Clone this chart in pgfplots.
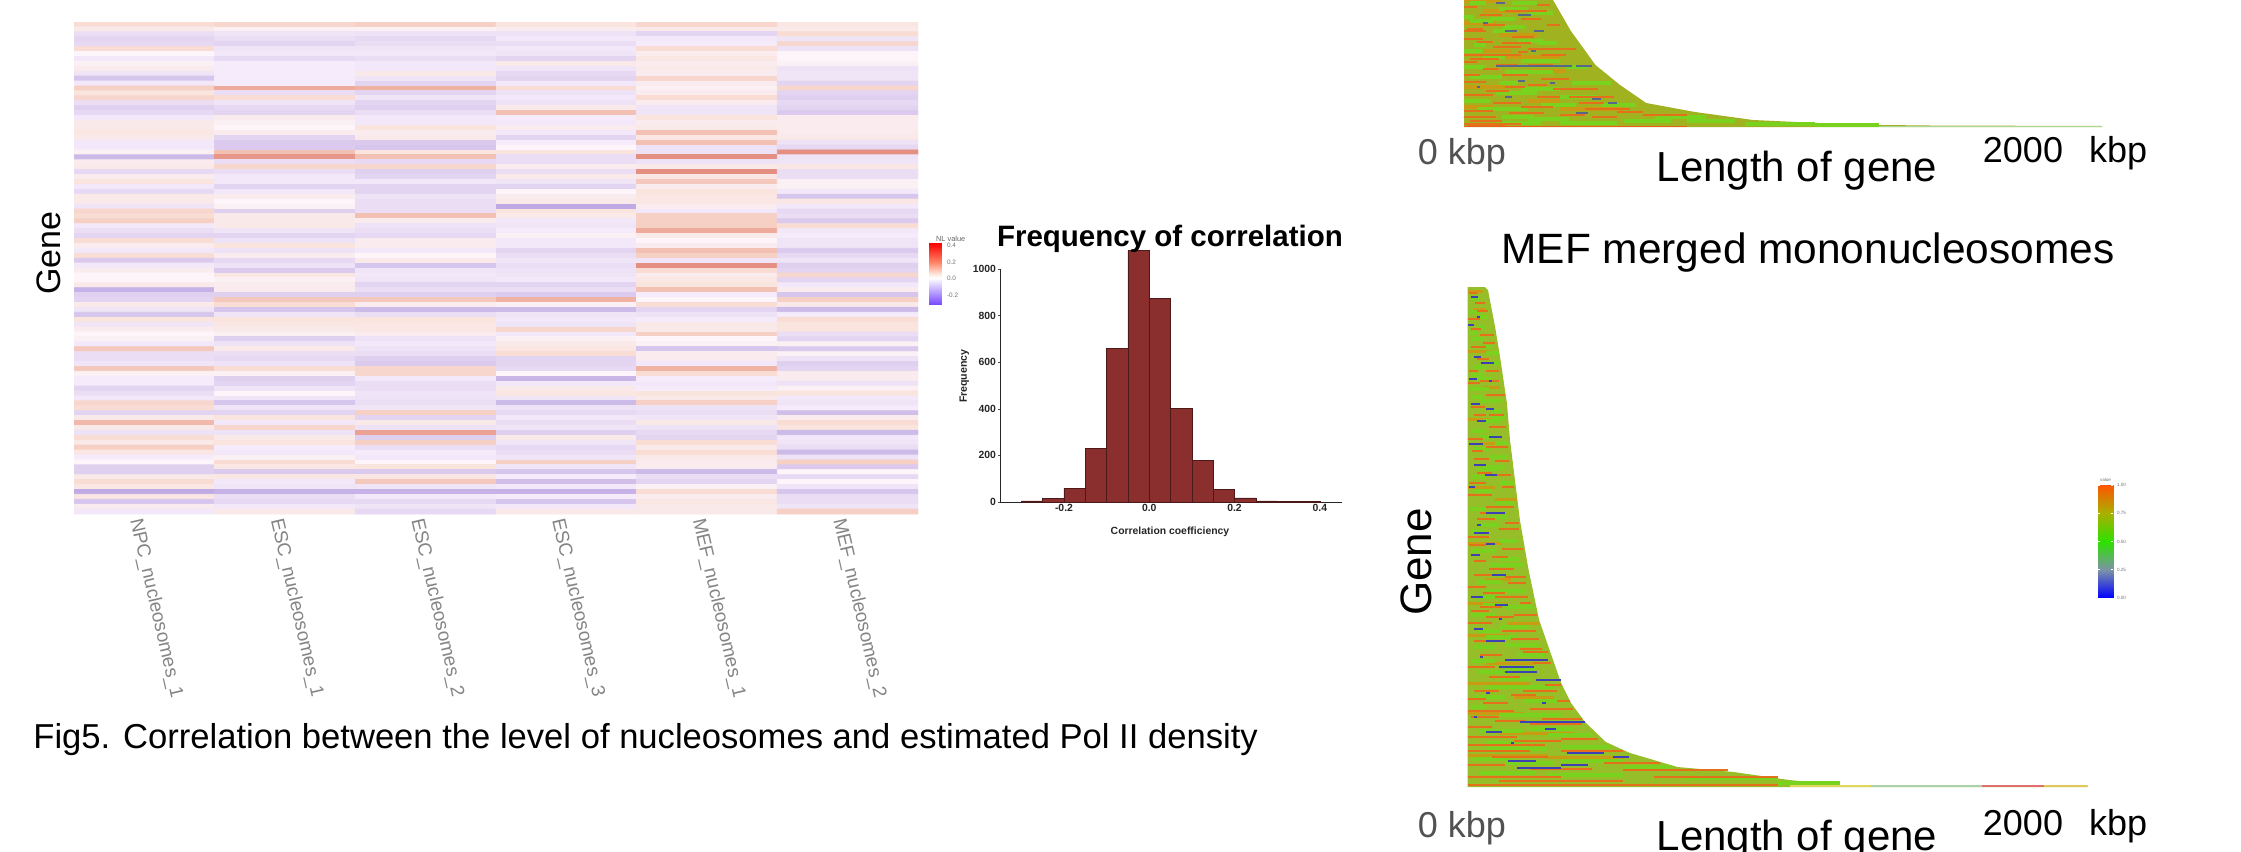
\documentclass[border=0pt]{standalone}
\usepackage{fontspec}
\setmainfont{Liberation Sans}
\usepackage{pgfplots}
\usepackage{pgfplotstable}
\pgfplotsset{compat=1.18}
% 1 reference pixel = 0.5pt
\newcommand{\fs}[1]{\fontsize{#1}{#1}\selectfont}
\definecolor{oS}{HTML}{E4701A}
\definecolor{gS}{HTML}{78D21E}
\definecolor{lS}{HTML}{C99A12}
\definecolor{bS}{HTML}{3C42B4}
\definecolor{bU}{HTML}{55688C}
\definecolor{barR}{HTML}{8B2E2E}
\pgfplotsset{
 streak/.style n args={2}{draw=none,mark=none,forget plot,
   error bars/.cd,x dir=plus,x explicit,error mark=none,
   error bar style={color=#1,line width=#2}},
 panel/.style={anchor=south west,scale only axis,hide axis,clip=true,xmin=0,xmax=2000,ymin=0},
 colormap={nl}{rgb255(0pt)=(122,76,255); rgb255(15pt)=(192,170,228); rgb255(19pt)=(204,186,232); rgb255(23pt)=(224,208,240); rgb255(27pt)=(238,226,246);
   rgb255(30pt)=(245,235,250); rgb255(31pt)=(253,245,250); rgb255(33pt)=(250,235,238); rgb255(36pt)=(250,228,222);
   rgb255(39pt)=(246,208,196); rgb255(44pt)=(238,170,155); rgb255(51pt)=(217,106,96); rgb255(74pt)=(240,0,0)},
 colormap={nlleg}{rgb255(0pt)=(122,76,255); rgb255(31pt)=(255,255,255); rgb255(36pt)=(255,232,222); rgb255(51pt)=(255,130,100); rgb255(74pt)=(250,0,0)},
 colormap={val}{rgb255(0pt)=(0,0,255); rgb255(25pt)=(124,146,168); rgb255(50pt)=(45,225,0); rgb255(75pt)=(170,176,0); rgb255(100pt)=(255,85,0)},
}
% ---- gene panels: streaks, a b = start and end (kbp), r = gene rank
\pgfplotstableread[row sep=\\]{a b r\\
0 120 126\\ 60 180 116\\ 0 100 104\\ 110 230 92\\ 30 150 76\\ 210 320 56\\ 0 130 40\\ 200 300 26\\ 300 500 18\\ 0 90 20\\ 130 300 70\\
}\upOl
\pgfplotstableread[row sep=\\]{a b r\\
0 40 120\\ 230 270 122\\ 50 120 112\\ 180 240 108\\ 260 300 102\\ 0 60 88\\ 40 90 85\\ 150 220 90\\ 0 180 72\\ 170 200 75\\ 200 350 78\\
0 40 65\\ 60 110 58\\ 120 200 52\\ 240 330 48\\ 0 70 45\\ 130 190 40\\ 280 420 38\\ 0 90 32\\ 90 180 24\\ 230 300 30\\ 360 440 24\\
0 100 10\\ 20 120 6\\ 140 250 14\\ 300 380 12\\ 400 480 10\\ 480 560 15\\ 560 700 12\\ 0 180 3\\ 0 90 16\\ 10 60 98\\ 90 180 80\\ 20 110 68\\ 200 280 62\\
130 260 116\\ 60 130 102\\ 120 210 84\\ 240 320 72\\ 100 170 62\\ 0 50 52\\ 200 260 42\\ 70 140 36\\ 330 470 30\\ 180 280 20\\ 380 520 18\\ 10 130 2\\ 0 70 96\\
}\upOr
\pgfplotstableread[row sep=\\]{a b r\\
20 70 124\\ 110 200 118\\ 120 190 100\\ 90 150 96\\ 30 70 82\\ 180 300 66\\ 60 130 70\\ 130 280 55\\ 320 390 60\\ 20 120 50\\ 100 230 34\\ 240 350 22\\
300 420 30\\ 40 200 18\\ 200 330 8\\ 430 540 22\\ 100 240 4\\ 500 650 6\\ 700 850 6\\ 600 760 10\\ 200 280 114\\ 20 90 106\\ 230 290 84\\ 880 1100 3\\ 1100 1300 2\\
0 30 110\\ 150 230 124\\ 80 160 108\\ 170 250 86\\ 0 60 76\\ 110 170 44\\ 340 460 44\\ 180 300 38\\ 0 80 26\\ 120 220 10\\ 300 480 4\\ 0 70 60\\
}\upGr
\pgfplotstableread[row sep=\\]{a b r\\
100 130 124\\ 170 210 112\\ 220 250 96\\ 130 165 96\\ 100 340 61\\ 350 400 61\\ 170 190 46\\ 130 150 30\\ 400 430 28\\ 350 390 14\\ 450 480 24\\ 60 75 104\\ 210 225 76\\ 40 50 40\\ 270 285 44\\
}\upBl
\pgfplotstableread[row sep=\\]{a b r\\
0 50 496\\ 20 60 478\\ 0 70 436\\ 50 105 400\\ 0 90 368\\ 40 100 344\\ 0 90 300\\ 90 160 288\\ 0 110 244\\ 60 140 208\\ 0 130 184\\ 130 230 164\\ 0 130 152\\ 60 220 124\\ 0 200 104\\ 150 280 90\\ 0 180 74\\ 100 340 54\\ 0 260 32\\ 260 500 30\\
}\loOl
\pgfplotstableread[row sep=\\]{a b r\\
5 30 494\\ 25 55 484\\ 0 40 468\\ 40 85 452\\ 10 60 440\\ 30 70 428\\ 60 100 416\\ 0 40 404\\ 60 120 392\\ 10 55 380\\ 20 60 372\\ 70 125 360\\ 0 50 348\\ 60 130 340\\ 20 70 328\\ 90 140 312\\ 5 60 304\\ 0 80 292\\ 60 150 280\\ 30 90 268\\ 100 165 258\\ 0 70 250\\ 110 180 238\\ 20 60 226\\ 70 150 218\\ 120 190 210\\ 0 60 200\\ 90 195 190\\ 40 110 180\\ 150 225 172\\ 0 80 164\\ 110 220 156\\ 20 70 146\\ 170 240 138\\
0 90 120\\ 180 260 135\\ 0 60 88\\ 180 290 96\\ 50 130 84\\ 0 150 76\\ 200 340 78\\ 90 190 66\\ 0 80 60\\ 200 370 63\\ 0 160 50\\ 150 300 46\\ 0 250 42\\ 300 420 48\\ 0 200 36\\ 80 260 30\\ 300 500 36\\ 0 120 22\\ 200 400 18\\ 440 620 24\\ 0 300 10\\ 500 840 17\\ 100 500 6\\ 600 1000 10\\ 0 1000 2\\
30 65 476\\ 10 45 458\\ 50 90 444\\ 5 35 416\\ 40 100 406\\ 70 118 372\\ 15 50 336\\ 90 135 326\\ 30 80 314\\ 110 150 300\\ 40 100 274\\ 120 165 264\\ 5 60 242\\ 80 130 230\\ 20 80 212\\ 130 190 204\\ 50 120 194\\ 170 205 184\\ 10 70 176\\ 60 150 170\\ 140 230 148\\ 40 110 132\\ 210 270 124\\ 70 170 110\\ 250 300 102\\ 20 100 96\\ 140 220 92\\ 290 330 86\\ 10 100 70\\ 240 370 68\\
}\loOr
\pgfplotstableread[row sep=\\]{a b r\\
5 45 475\\ 30 60 460\\ 10 50 448\\ 60 100 434\\ 20 60 420\\ 5 70 398\\ 40 110 386\\ 50 110 366\\ 10 60 356\\ 70 130 330\\ 30 100 318\\ 20 80 296\\ 90 150 284\\ 30 100 262\\ 100 160 246\\ 10 90 236\\ 70 180 222\\ 30 110 205\\ 120 190 196\\ 10 90 172\\ 100 200 160\\ 60 160 150\\ 20 90 140\\ 30 120 115\\ 120 220 118\\ 60 130 100\\ 130 280 100\\ 20 120 90\\ 100 300 72\\ 40 180 56\\ 200 340 58\\ 60 260 38\\ 300 460 40\\ 40 220 14\\ 260 500 12\\ 500 660 20\\ 700 1000 9\\ 1000 1200 4\\ 10 50 412\\ 80 110 376\\ 10 60 310\\ 60 130 196\\
10 40 488\\ 35 62 470\\ 5 30 454\\ 40 80 440\\ 70 100 424\\ 30 80 408\\ 10 50 390\\ 75 120 370\\ 40 90 350\\ 90 130 344\\ 20 70 338\\ 50 120 320\\ 100 150 304\\ 5 60 278\\ 70 130 270\\ 10 60 256\\ 100 170 228\\ 30 100 190\\ 50 120 182\\ 120 210 180\\ 30 100 156\\ 120 230 142\\ 160 250 132\\ 10 90 126\\ 100 200 108\\ 10 60 80\\ 180 290 86\\ 60 180 44\\ 260 400 52\\ 120 280 24\\ 20 140 28\\ 300 500 26\\
}\loGr
\pgfplotstableread[row sep=\\]{a b r\\
10 35 490\\ 0 20 462\\ 20 45 430\\ 45 85 424\\ 5 30 408\\ 10 40 383\\ 60 85 378\\ 30 60 366\\ 70 110 350\\ 5 50 343\\ 20 60 322\\ 55 95 312\\ 5 25 300\\ 60 120 274\\ 20 70 254\\ 60 90 243\\ 10 40 232\\ 80 125 212\\ 10 50 190\\ 90 130 182\\ 20 50 158\\ 60 120 146\\ 100 215 120\\ 120 225 115\\ 120 260 127\\ 220 300 107\\ 170 380 65\\ 60 110 55\\ 250 285 58\\ 320 440 34\\ 300 390 22\\ 160 300 19\\ 130 220 26\\ 470 520 30\\ 30 40 470\\ 70 80 406\\ 30 42 262\\ 100 110 168\\ 40 50 130\\ 60 72 94\\ 240 252 84\\ 140 150 44\\ 20 30 70\\
}\loBl
\begin{document}
\begin{tikzpicture}
\clip (0,0) rectangle (1120.5pt,-425.5pt);
% ---------- heat map ----------
\begin{axis}[at={(37pt,-11pt)},anchor=north west,scale only axis,width=422pt,height=246pt,
  xmin=-0.5,xmax=5.5,ymin=-0.5,ymax=99.5,y dir=reverse,
  colormap name=nl,point meta min=-0.31,point meta max=0.43,
  axis line style={draw=none},major tick length=0pt,ytick=\empty,xtick={0,...,5},
  xticklabels={NPC\_nucleosomes\_1,ESC\_nucleosomes\_1,ESC\_nucleosomes\_2,ESC\_nucleosomes\_3,MEF\_nucleosomes\_1,MEF\_nucleosomes\_2},
  xticklabel style={rotate=-77,anchor=west,xshift=-2.2pt,yshift=-5.1pt,font=\fs{9.5},text=black!48},
  ylabel={Gene},ylabel style={font=\fs{17},at={(axis description cs:-0.007,0.53)},anchor=south}]
\addplot[matrix plot*,mesh/cols=6,point meta=explicit]
 table[row sep=\\,header=false,x expr={\coordindex-6*floor((\coordindex+0.5)/6)},y expr={floor((\coordindex+0.5)/6)},meta index=0]{
0.06\\0.07\\0.08\\0.05\\0.07\\0.04\\
0.03\\0.01\\0.01\\0.02\\0.03\\0.03\\
-0.05\\-0.03\\-0.04\\-0.04\\-0.07\\0.06\\
-0.07\\-0.05\\-0.06\\-0.02\\-0.02\\-0.03\\
-0.06\\-0.07\\-0.05\\-0.05\\-0.01\\0.07\\
0.06\\-0.03\\-0.03\\-0.02\\0.06\\-0.04\\
0.00\\-0.02\\-0.02\\-0.03\\0.02\\0.00\\
-0.02\\-0.06\\-0.05\\-0.07\\0.04\\0.00\\
0.01\\-0.01\\-0.02\\0.03\\0.02\\0.01\\
0.02\\-0.01\\-0.02\\-0.03\\0.03\\-0.04\\
-0.03\\-0.01\\0.03\\-0.06\\0.02\\-0.03\\
-0.10\\-0.01\\-0.03\\-0.07\\0.07\\-0.03\\
-0.02\\-0.01\\-0.07\\-0.02\\0.02\\-0.07\\
0.08\\0.13\\0.12\\0.06\\0.01\\0.07\\
0.05\\-0.05\\-0.07\\-0.04\\0.02\\-0.07\\
0.07\\0.06\\-0.03\\-0.02\\0.06\\-0.08\\
-0.05\\-0.03\\-0.07\\-0.04\\0.02\\-0.06\\
-0.08\\-0.06\\-0.08\\0.03\\-0.03\\-0.07\\
-0.06\\-0.07\\-0.05\\0.10\\-0.03\\-0.09\\
-0.02\\0.02\\-0.02\\-0.01\\0.05\\0.02\\
0.03\\0.01\\-0.02\\-0.02\\0.02\\0.02\\
0.03\\0.00\\0.05\\0.02\\0.03\\0.02\\
0.04\\0.02\\0.02\\-0.02\\0.10\\0.02\\
0.03\\-0.07\\0.03\\-0.07\\0.04\\0.03\\
-0.02\\-0.09\\-0.09\\-0.01\\0.10\\-0.04\\
-0.02\\-0.09\\-0.10\\0.00\\-0.04\\-0.06\\
0.01\\0.10\\0.05\\0.05\\-0.04\\0.16\\
-0.12\\0.15\\0.10\\-0.05\\0.16\\-0.04\\
0.02\\-0.05\\-0.06\\-0.05\\-0.04\\-0.03\\
0.03\\0.07\\0.07\\0.02\\0.03\\0.04\\
-0.06\\-0.05\\-0.08\\-0.05\\0.16\\-0.05\\
0.02\\-0.02\\-0.07\\0.03\\0.04\\-0.05\\
0.05\\-0.02\\-0.02\\-0.03\\0.09\\0.01\\
-0.02\\-0.07\\-0.07\\-0.07\\0.02\\0.01\\
-0.06\\-0.02\\-0.07\\0.00\\0.05\\-0.02\\
0.03\\0.02\\-0.04\\0.02\\0.04\\-0.10\\
0.03\\0.00\\-0.05\\0.03\\0.04\\0.04\\
-0.03\\0.01\\-0.05\\-0.16\\0.02\\-0.02\\
0.07\\-0.08\\-0.05\\0.05\\-0.02\\-0.06\\
0.06\\0.03\\0.10\\0.03\\0.08\\-0.05\\
0.08\\0.03\\0.02\\-0.02\\0.08\\-0.09\\
-0.02\\0.03\\-0.04\\-0.03\\0.08\\0.06\\
-0.05\\-0.03\\-0.05\\-0.01\\0.13\\-0.02\\
-0.07\\-0.07\\-0.06\\0.01\\0.03\\-0.01\\
0.06\\-0.04\\0.02\\-0.02\\0.00\\-0.03\\
0.02\\0.05\\0.02\\-0.02\\0.02\\-0.03\\
-0.02\\-0.04\\-0.02\\-0.07\\0.10\\-0.09\\
0.06\\0.02\\0.00\\-0.05\\0.08\\-0.06\\
-0.09\\-0.06\\0.03\\-0.03\\-0.03\\-0.03\\
-0.02\\-0.04\\-0.10\\-0.05\\0.16\\-0.08\\
0.02\\-0.09\\-0.03\\-0.04\\0.06\\-0.07\\
0.00\\0.04\\-0.02\\-0.03\\0.02\\0.07\\
0.00\\0.01\\-0.03\\-0.02\\0.04\\-0.07\\
0.03\\0.02\\-0.07\\-0.07\\0.05\\-0.02\\
-0.14\\0.02\\-0.05\\-0.05\\0.10\\0.02\\
-0.08\\-0.08\\-0.08\\-0.09\\-0.01\\-0.10\\
-0.07\\0.09\\0.09\\0.12\\0.00\\0.08\\
0.03\\0.06\\0.02\\0.01\\0.06\\0.03\\
-0.03\\-0.10\\-0.12\\-0.12\\-0.07\\-0.12\\
-0.10\\-0.03\\-0.05\\-0.03\\-0.04\\-0.01\\
0.05\\0.05\\0.05\\-0.02\\-0.01\\0.06\\
-0.03\\0.04\\0.04\\-0.03\\0.03\\0.05\\
0.02\\0.03\\0.04\\0.07\\0.03\\0.05\\
0.00\\0.01\\0.02\\-0.02\\0.08\\-0.05\\
0.01\\-0.08\\-0.04\\0.01\\0.00\\-0.07\\
-0.02\\-0.04\\-0.02\\0.03\\0.01\\0.01\\
0.09\\0.03\\-0.04\\0.04\\-0.10\\-0.09\\
-0.05\\-0.05\\-0.05\\0.06\\0.02\\0.01\\
-0.05\\-0.06\\-0.08\\-0.07\\0.02\\-0.04\\
-0.03\\-0.04\\-0.09\\-0.07\\-0.02\\-0.08\\
0.09\\0.06\\0.07\\-0.06\\0.12\\-0.07\\
0.01\\0.01\\0.07\\0.00\\0.06\\0.02\\
-0.01\\-0.08\\-0.02\\-0.13\\-0.01\\0.02\\
-0.01\\-0.07\\-0.05\\-0.02\\-0.02\\-0.04\\
-0.07\\-0.03\\-0.05\\0.03\\-0.01\\0.01\\
-0.05\\0.00\\-0.03\\0.04\\0.05\\0.05\\
-0.02\\-0.03\\-0.04\\-0.03\\0.03\\-0.02\\
0.07\\-0.10\\-0.05\\-0.12\\0.08\\-0.03\\
0.06\\-0.03\\-0.03\\-0.04\\-0.04\\-0.01\\
-0.07\\-0.07\\0.08\\-0.06\\-0.05\\-0.11\\
0.03\\0.05\\-0.07\\-0.02\\-0.03\\0.02\\
0.11\\-0.02\\0.03\\-0.05\\0.03\\0.06\\
0.03\\0.07\\-0.04\\-0.03\\-0.04\\0.05\\
-0.04\\-0.04\\0.14\\-0.08\\-0.06\\-0.12\\
0.06\\0.03\\-0.08\\0.03\\-0.07\\-0.02\\
0.03\\0.05\\0.08\\-0.03\\0.06\\-0.03\\
0.08\\-0.01\\-0.05\\-0.06\\0.03\\-0.05\\
0.04\\-0.02\\-0.01\\-0.05\\0.06\\-0.12\\
-0.01\\0.01\\-0.02\\-0.03\\0.03\\-0.04\\
0.00\\0.06\\0.00\\0.08\\0.02\\0.08\\
-0.08\\0.04\\0.05\\-0.03\\0.02\\-0.09\\
-0.08\\-0.09\\-0.09\\-0.10\\-0.12\\0.00\\
0.03\\0.04\\0.04\\-0.01\\-0.05\\-0.06\\
0.06\\-0.02\\0.09\\-0.11\\-0.07\\0.00\\
0.04\\-0.03\\-0.03\\-0.02\\0.01\\-0.03\\
-0.16\\-0.14\\-0.14\\-0.14\\0.06\\-0.10\\
0.04\\-0.05\\-0.02\\-0.01\\0.02\\-0.05\\
-0.10\\-0.06\\-0.06\\-0.10\\0.04\\-0.05\\
0.02\\-0.02\\-0.03\\-0.02\\0.03\\-0.03\\
-0.02\\0.03\\-0.06\\0.03\\0.03\\0.08\\
};
\end{axis}
% ---------- NL value legend ----------
\begin{axis}[at={(464.5pt,-152pt)},anchor=south west,scale only axis,width=6.5pt,height=30.5pt,
  view={0}{90},xmin=0,xmax=1,ymin=-0.31,ymax=0.43,
  colormap name=nlleg,point meta min=-0.31,point meta max=0.43,
  axis line style={draw=none},xtick=\empty,ytick={-0.2,0,0.2,0.4},yticklabels={-0.2,0.0,0.2,0.4},
  ytick pos=right,major tick length=0pt,
  yticklabel style={font=\fs{3.2},text=black!55,xshift=-1pt},
  title={NL value},title style={font=\fs{3.7},text=black!60,at={(0,1)},anchor=south west,yshift=-9pt}]
\addplot3[surf,shader=interp,mesh/cols=2,point meta=y] coordinates {
 (0,-0.31,0)(1,-0.31,0)(0,0,0)(1,0,0)(0,0.05,0)(1,0.05,0)(0,0.2,0)(1,0.2,0)(0,0.43,0)(1,0.43,0)};
\end{axis}
% ---------- histogram ----------
\begin{axis}[at={(500pt,-251pt)},anchor=south west,scale only axis,width=171pt,height=116.5pt,
  xmin=-0.35,xmax=0.452,ymin=0,ymax=1000,clip=false,
  axis x line=bottom,axis y line=left,axis line style={-,line width=0.4pt,color=black!85},
  xtick={-0.2,0,0.2,0.4},xticklabels={-0.2,0.0,0.2,0.4},ytick={0,200,400,600,800,1000},
  /pgf/number format/assume math mode=true,/pgf/number format/set thousands separator={},
  tick style={draw=black!70,line width=0.3pt},major tick length=1pt,tick align=outside,xtick style={draw=none},
  tick label style={font=\bfseries\fs{5.2},text=black!85},
  xticklabel style={yshift=3.2pt},yticklabel style={xshift=2.5pt},
  xlabel={Correlation coefficiency},ylabel={Frequency},
  xlabel style={font=\bfseries\fs{5.2},text=black!85,at={(axis description cs:0.497,0)},anchor=base,yshift=-16pt},
  ylabel style={font=\bfseries\fs{5.3},text=black!85,at={(axis description cs:-0.097,0.54)},anchor=base},
  title={Frequency of correlation},title style={font=\bfseries\fs{14.75},at={(axis description cs:0.497,1)},anchor=base,yshift=5.5pt}]
\addplot[ybar interval,fill=barR,draw=black!45!barR,line width=0.3pt] coordinates {
 (-0.30,5)(-0.25,14)(-0.20,60)(-0.15,230)(-0.10,660)(-0.05,1080)(0.00,875)(0.05,402)(0.10,178)(0.15,55)(0.20,18)(0.25,5)(0.30,1)(0.35,3)(0.40,0)};
\end{axis}
% ---------- upper gene panel (cut by the page top) ----------
\begin{axis}[panel,at={(732pt,-63.5pt)},width=319pt,height=63.5pt,ymax=127]
\addplot[fill={rgb,255:red,160;green,178;blue,32},draw=none] coordinates {
 (0,127)(279,127)(335,96)(412,62)(489,42)(571,24)(724,15)(906,7)(1110,4)(1310,2)(1461,1.5)(2000,1)} \closedcycle;
\addplot[streak={lS}{1.6pt}] table[x=a,y=r,x error expr=\thisrow{b}-\thisrow{a}]{\upOl};
\addplot[streak={gS}{2pt}] table[x=a,y=r,x error expr=\thisrow{b}-\thisrow{a}]{\upGr};
\addplot[streak={oS}{1.3pt}] table[x=a,y=r,x error expr=\thisrow{b}-\thisrow{a}]{\upOr};
\addplot[streak={bU}{0.8pt}] table[x=a,y=r,x error expr=\thisrow{b}-\thisrow{a}]{\upBl};
\addplot[draw=oS!85!red,line width=0.8pt] coordinates {(0,0.6)(700,0.6)};
\addplot[draw={rgb,255:red,170;green,215;blue,150},line width=0.7pt] coordinates {(1300,0.8)(2000,0.8)};
\end{axis}
\node[anchor=base,text=black!68,font=\fs{18}] at (731pt,-82pt) {0 kbp};
\node[anchor=base,font=\fs{18}] at (1032.5pt,-81pt) {2000\hspace{13pt}kbp};
\node[anchor=base,font=\fs{21}] at (898.5pt,-90.5pt) {Length of gene};
\node[anchor=base,font=\fs{21.2}] at (904pt,-131.5pt) {MEF merged mononucleosomes};
% ---------- lower gene panel ----------
\begin{axis}[panel,at={(733.75pt,-393.5pt)},width=310pt,height=250pt,ymax=500]
\addplot[fill={rgb,255:red,150;green,190;blue,40},draw=none] coordinates {
 (0,500)(56,500)(66,497)(89,460)(105,430)(127,384)(137,347)(153,307)(169,267)(197,217)(231,167)(276,127)(302,104)(334,84)(379,65)(446,45)(524,34)(677,20)(858,15)(1038,7)(1200,2)(2000,1)} \closedcycle;
\addplot[streak={lS}{1.5pt}] table[x=a,y=r,x error expr=\thisrow{b}-\thisrow{a}]{\loOl};
\addplot[streak={gS}{2.2pt}] table[x=a,y=r,x error expr=\thisrow{b}-\thisrow{a}]{\loGr};
\addplot[streak={oS}{1pt}] table[x=a,y=r,x error expr=\thisrow{b}-\thisrow{a}]{\loOr};
\addplot[streak={bS}{1pt}] table[x=a,y=r,x error expr=\thisrow{b}-\thisrow{a}]{\loBl};
\addplot[draw={rgb,255:red,225;green,215;blue,90},line width=0.7pt] coordinates {(1040,1)(1300,1)};
\addplot[draw={rgb,255:red,170;green,210;blue,170},line width=0.7pt] coordinates {(1300,1)(1660,1)};
\addplot[draw={rgb,255:red,225;green,110;blue,110},line width=0.7pt] coordinates {(1660,1)(1860,1)};
\addplot[draw={rgb,255:red,225;green,200;blue,90},line width=0.7pt] coordinates {(1860,1)(2000,1)};
\end{axis}
\node[anchor=base,text=black!68,font=\fs{18}] at (731pt,-418.5pt) {0 kbp};
\node[anchor=base,font=\fs{18}] at (1032.5pt,-417.5pt) {2000\hspace{13pt}kbp};
\node[anchor=base,font=\fs{21}] at (898.5pt,-425pt) {Length of gene};
\node[rotate=90,font=\fs{22}] at (708pt,-281pt) {Gene};
% ---------- value legend ----------
\begin{axis}[at={(1049pt,-299.5pt)},anchor=south west,scale only axis,width=7.5pt,height=57.5pt,
  view={0}{90},xmin=0,xmax=1,ymin=-0.01,ymax=1.01,
  colormap name=val,point meta min=0,point meta max=1,axis on top,
  axis line style={draw=none},xtick=\empty,ytick={0,0.25,0.5,0.75,1},yticklabels={0.00,0.25,0.50,0.75,1.00},
  ytick pos=both,tick align=inside,major tick length=1.2pt,tick style={draw=white,line width=0.25pt},
  yticklabel pos=right,yticklabel style={font=\fs{2.3},text=black!55,xshift=-1.5pt},
  title={value},title style={font=\fs{2.3},text=black!55,at={(0.5,1)},anchor=south,yshift=-8.5pt}]
\addplot3[surf,shader=interp,mesh/cols=2,point meta=y] coordinates {
 (0,0,0)(1,0,0)(0,0.25,0)(1,0.25,0)(0,0.5,0)(1,0.5,0)(0,0.75,0)(1,0.75,0)(0,1,0)(1,1,0)};
\end{axis}
% ---------- caption ----------
\node[anchor=base west,inner sep=0pt,font=\fs{17.3}] at (16.5pt,-374pt) {Fig5. Correlation between the level of nucleosomes and estimated Pol II density};
\end{tikzpicture}
\end{document}
